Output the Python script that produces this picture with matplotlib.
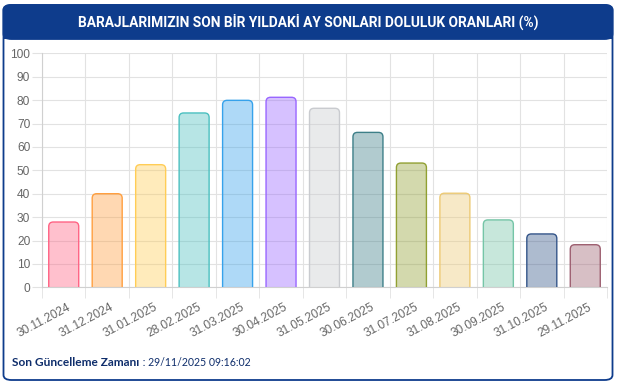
import numpy as np
import matplotlib
matplotlib.use('Agg')
import matplotlib.pyplot as plt
import matplotlib.transforms as mtrans
from matplotlib.patches import FancyBboxPatch

plt.rcParams['font.family'] = ['Liberation Sans', 'DejaVu Sans']

# ay sonu tarihleri ve doluluk oranlari (%)
dates = ['30.11.2024', '31.12.2024', '31.01.2025', '28.02.2025', '31.03.2025',
         '30.04.2025', '31.05.2025', '30.06.2025', '31.07.2025', '31.08.2025',
         '30.09.2025', '31.10.2025', '29.11.2025']
ratios = [27.9, 40.0, 52.4, 74.5, 79.9, 81.2, 76.5, 66.2, 53.1, 40.2, 28.8, 22.8, 18.2]
edge_colors = ['#ff6384', '#ff9f40', '#ffcd56', '#4bc0c0', '#36a2eb', '#9966ff',
               '#c9cbcf', '#3d7f88', '#91a032', '#edca75', '#75c5a7', '#345589',
               '#9d5f70']

title = 'BARAJLARIMIZIN SON BİR YILDAKİ AY SONLARI DOLULUK ORANLARI (%)'
navy = '#0e3c8c'

W, H = 618, 386
fig = plt.figure(figsize=(W / 100, H / 100), dpi=100)
fig.patch.set_facecolor('white')

# kart cercevesi ve baslik bandi
card = FancyBboxPatch((3.5 / W, 6 / H), 609 / W, 375 / H,
                      boxstyle='round,pad=0,rounding_size=0.013',
                      transform=fig.transFigure, facecolor='white',
                      edgecolor=navy, linewidth=1.3, zorder=-3)
fig.patches.append(card)
band = FancyBboxPatch((3.5 / W, (H - 39) / H), 609 / W, 34 / H,
                      boxstyle='round,pad=0,rounding_size=0.013',
                      transform=fig.transFigure, facecolor=navy,
                      edgecolor=navy, linewidth=1.3, zorder=-2)
fig.patches.append(band)
fig.patches.append(plt.Rectangle((3.5 / W, (H - 39) / H), 609 / W, 12 / H,
                                 transform=fig.transFigure, facecolor=navy,
                                 edgecolor='none', zorder=-2))
fig.text(308 / W, 1 - 22 / H, title, ha='center', va='center', color='white',
         fontsize=9.9, fontweight='bold', family=['Roboto', 'DejaVu Sans'])

ax = fig.add_axes([42 / W, 1 - 287.3 / H, 565 / W, 234 / H])
ax.set_zorder(2)
ax.patch.set_alpha(0)
x = np.arange(len(dates))
bars = ax.bar(x, ratios, width=0.69)
px_x = 565 / len(dates)
px_y = 234 / 100.0
r = 4.5 / px_x
for b, c in zip(bars, edge_colors):
    x0, w, h = b.get_x(), b.get_width(), b.get_height()
    b.remove()
    p = FancyBboxPatch((x0, -5), w, h + 5,
                       boxstyle='round,pad=0,rounding_size=%f' % r,
                       mutation_aspect=px_x / px_y,
                       facecolor=matplotlib.colors.to_rgba(c, 0.4),
                       edgecolor=c, linewidth=1.0, zorder=3)
    ax.add_patch(p)

ax.set_xlim(-0.5, len(dates) - 0.5)
ax.set_ylim(0, 100)
ax.set_yticks(range(0, 101, 10))
ax.set_xticks(x)
ax.set_xticks(np.arange(-0.5, len(dates), 1), minor=True)
ax.set_xticklabels(dates, rotation=28, ha='right', rotation_mode='anchor')
ax.grid(True, which='minor', axis='x', color='#e2e2e2', linewidth=0.8)
ax.grid(True, which='major', axis='y', color='#e2e2e2', linewidth=0.8)
ax.set_axisbelow(True)
for s in ['top', 'right']:
    ax.spines[s].set_visible(False)
for s in ['left', 'bottom']:
    ax.spines[s].set_color('#d0d0d0')
    ax.spines[s].set_linewidth(0.8)
ax.tick_params(axis='y', length=7, color='#e2e2e2', pad=1.5, labelsize=8.6,
               labelcolor='#666666')
ax.tick_params(axis='x', which='major', length=0, pad=14, labelsize=8.6,
               labelcolor='#666666')
ax.tick_params(axis='x', which='minor', length=8, color='#e2e2e2')
shift = mtrans.ScaledTranslation(6 / 100, 0, fig.dpi_scale_trans)
for lbl in ax.get_xticklabels():
    lbl.set_verticalalignment('center')
    lbl.set_transform(lbl.get_transform() + shift)

# alt bilgi
t1 = fig.text(12.5 / W, 1 - 363 / H, 'Son Güncelleme Zamanı', ha='left',
              va='center', color='#0e2d6b', fontsize=8.6, fontweight='bold',
              family=['Lato', 'DejaVu Sans'])
ax.annotate(' : 29/11/2025 09:16:02', xy=(1, 0.5), xycoords=t1,
            ha='left', va='center', color='#0e2d6b', fontsize=7.6,
            family=['Lato', 'DejaVu Sans'], annotation_clip=False)

fig.savefig('out.png', dpi=100)
